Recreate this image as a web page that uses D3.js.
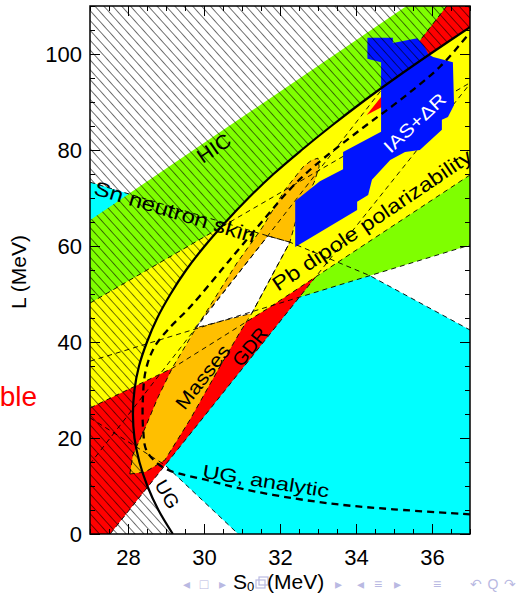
<!DOCTYPE html>
<html>
<head>
<meta charset="utf-8">
<script src="https://cdn.jsdelivr.net/npm/d3@7"></script>
<style>
  html, body { margin: 0; padding: 0; background: #fff; overflow: hidden; }
  text { font-family: 'Liberation Sans', Arial, sans-serif; }
</style>
</head>
<body>
<svg id="chart" width="517" height="595"></svg>
<script>
// ---------- constraint regions in the (S0, L) plane, both in MeV ----------

// Sn neutron skin band
const snUpperS = [27, 31.68, 32.26, 34.37, 37];
const snUpperL = [73.3, 62.1, 60.8, 53.8, 42.5];
const snLowerS = [27, 28.97, 30.9];
const snLowerL = [24.2, 14.4, 0];

// heavy-ion collisions
const hicS = [27, 35.33, 37, 37, 32.53, 27];
const hicL = [65.4, 110, 110, 60.2, 49.4, 36.0];
const hicLowS = [27, 37];
const hicLowL = [36.0, 60.2];

// giant dipole resonance
const gdrS = [27, 27.53, 37, 37, 36.39, 31.48, 27];
const gdrL = [0, 0, 93.8, 110, 110, 60, 32.1];
const gdrRightS = [27.53, 37];
const gdrRightL = [0, 93.8];
const gdrLeftS = [36.39, 27];
const gdrLeftL = [110, 14.6];
const gdrGapS = [34.28, 34.68, 34.68];
const gdrGapL = [87.3, 91.25, 88.96];

// Pb dipole polarizability
const pbTopS = [27, 30.40];
const pbTopL = [48.1, 63.7];
const pbLowS = [37, 31.74, 29.18, 27];
const pbLowL = [74.8, 47.3, 34.6, 26.25];
const pbEdgeS = [27, 37];
const pbEdgeL = [48.1, 94.0];

// nuclear masses
const massS = [28.05, 28.13, 28.45, 28.79, 29.18, 29.76, 30.87, 31.53, 32.13, 32.61, 32.84, 33.00,
               33.03, 32.90, 32.66, 32.42, 32.26, 31.26, 30.95, 30.37, 29.63, 28.97, 28.45];
const massL = [12.5, 16.5, 22.1, 28.5, 34.8, 42.5, 56.5, 63.8, 71.7, 76.5, 77.9, 78.3,
               76.5, 73.3, 69.6, 65.4, 60.8, 46.0, 42.1, 34.2, 23.8, 15.4, 12.9];

// common overlap of the experimental bands
const overlapS = [31.68, 32.26, 31.26, 29.76];
const overlapL = [62.1, 60.8, 46.0, 42.9];

// isobaric analog states + neutron skins
const iasS = [34.30, 34.97, 34.97, 35.61, 35.79, 35.90, 36.03, 36.55, 36.58, 36.42, 36.26, 36.26, 35.68, 35.29,
              34.90, 34.42, 34.32, 34.03, 34.03, 32.40, 32.40, 33.05, 33.66, 33.66, 34.66, 34.66, 34.30];
const iasL = [103.4, 103.4, 102.3, 103.3, 101.7, 100.0, 99.4, 98.3, 89.4, 86.9, 86.3, 84.2, 80.0, 79.6,
              77.9, 73.8, 70.6, 69.2, 67.5, 59.8, 69.4, 73.5, 76.0, 79.6, 83.8, 98.3, 99.0];

// unitary gas bound
const ugL = [0, 5, 10, 15, 20, 25, 30, 35, 40, 45, 50, 55, 60, 65, 70, 75, 80, 85, 90, 95, 100, 105.6];
const ugS = [29.18, 28.80, 28.51, 28.30, 28.17, 28.13, 28.17, 28.29, 28.50, 28.77, 29.12, 29.53, 30.02,
             30.57, 31.17, 31.83, 32.57, 33.35, 34.17, 35.04, 35.95, 37.0];

// unitary gas bound, analytic form
const ugaS = [37.0, 34.98, 33.67, 32.35, 30.95, 30.07, 29.10, 28.76, 28.48, 28.40, 28.39, 28.47, 28.70,
              29.10, 29.54, 29.89, 30.68, 31.56, 32.26, 32.88, 34.11, 35.16, 36.21, 36.95];
const ugaL = [4.1, 5.15, 6.04, 7.44, 9.5, 11.25, 13.2, 14.8, 17.5, 21.7, 27.9, 34.2, 39.0,
              43.0, 46.5, 49.6, 57.1, 65.4, 71.8, 76.5, 84.2, 90.4, 97.35, 104.0];

// axis ticks
const xTicks = [28, 30, 32, 34, 36];
const yTicks = [0, 20, 40, 60, 80, 100];

// ---------- drawing ----------
const svg = d3.select('#chart');
const x = d3.scaleLinear().domain([27, 37]).range([90, 470]);
const y = d3.scaleLinear().domain([0, 110]).range([534, 6]);

const pts = (S, L) => S.map((s, i) => [s, L[i]]);
const poly = d3.line().x(d => x(d[0])).y(d => y(d[1]));
const smooth = d3.line().x(d => x(d[0])).y(d => y(d[1])).curve(d3.curveCatmullRom.alpha(0.5));
const closed = p => poly(p) + 'Z';

const ugPts = pts(ugS, ugL);
const snUpper = pts(snUpperS, snUpperL);
const snLower = pts(snLowerS, snLowerL);

const defs = svg.append('defs');
defs.append('clipPath').attr('id', 'plotArea')
  .append('rect').attr('x', x(27)).attr('y', y(110))
  .attr('width', x(37) - x(27)).attr('height', y(0) - y(110));

// region excluded by the unitary gas bound (left of / above the curve)
defs.append('clipPath').attr('id', 'ugExcluded')
  .append('path')
  .attr('d', smooth(ugPts) + `L${x(37)},${y(110)}L${x(27)},${y(110)}L${x(27)},${y(0)}Z`);

// part of the plane above the HIC band
defs.append('clipPath').attr('id', 'aboveHic')
  .append('path')
  .attr('d', closed([[hicS[0], 110], [hicS[1], hicL[1]], [hicS[0], hicL[0]]]));

defs.append('pattern').attr('id', 'hatch')
  .attr('patternUnits', 'userSpaceOnUse')
  .attr('width', 6.6).attr('height', 10)
  .attr('patternTransform', 'rotate(-42)')
  .append('line').attr('x1', 0).attr('y1', -1).attr('x2', 0).attr('y2', 11)
  .attr('stroke', '#000').attr('stroke-width', 1.1);

const plot = svg.append('g').attr('clip-path', 'url(#plotArea)');

// filled bands
const snPoly = snUpper.concat([[37, 0]], snLower.slice().reverse());
plot.append('path').attr('d', closed(snPoly)).attr('fill', '#00ffff');
plot.append('path').attr('d', closed(pts(hicS, hicL))).attr('fill', '#7fff00');
plot.append('path').attr('d', closed(pts(gdrS, gdrL))).attr('fill', '#ff0000');

const yellowPts = pts(pbTopS, pbTopL)
  .concat(ugPts.filter(p => p[1] > pbTopL[1]), pts(pbLowS, pbLowL));
plot.append('path').attr('d', closed(yellowPts)).attr('fill', '#ffff00');

plot.append('path').attr('d', closed(pts(massS, massL))).attr('fill', '#ffbf00');
plot.append('path').attr('d', closed(pts(overlapS, overlapL))).attr('fill', '#ffffff');
plot.append('path').attr('d', closed(pts(gdrGapS, gdrGapL))).attr('fill', '#ff0000');

// band edges
const thinDash = (p, isClosed) => plot.append('path')
  .attr('d', isClosed ? closed(p) : poly(p))
  .attr('fill', 'none').attr('stroke', '#000')
  .attr('stroke-width', 0.9).attr('stroke-dasharray', '5,4');

thinDash(snLower);
thinDash(pts(hicLowS, hicLowL));
thinDash(pts(pbLowS, pbLowL));
thinDash(pts(pbEdgeS, pbEdgeL));
thinDash(pts(gdrLeftS, gdrLeftL));
thinDash(pts(gdrRightS, gdrRightL));
thinDash(pts(massS, massL), true);
thinDash(pts(overlapS, overlapL), true);

// IAS + ΔR region
plot.append('path').attr('d', closed(pts(iasS, iasL))).attr('fill', '#0014ff');

// hatching over the excluded region
plot.append('rect')
  .attr('x', x(27)).attr('y', y(110))
  .attr('width', x(37) - x(27)).attr('height', y(0) - y(110))
  .attr('fill', 'url(#hatch)')
  .attr('clip-path', 'url(#ugExcluded)');

// Sn band piece above the HIC band stays plain
plot.append('g').attr('clip-path', 'url(#aboveHic)')
  .append('path').attr('d', closed(snPoly)).attr('fill', '#00ffff');
thinDash(snUpper);

// unitary gas curves
plot.append('path').attr('d', smooth(ugPts))
  .attr('fill', 'none').attr('stroke', '#000').attr('stroke-width', 2.2);
plot.append('path').attr('d', smooth(pts(ugaS, ugaL)))
  .attr('fill', 'none').attr('stroke', '#000').attr('stroke-width', 2.3)
  .attr('stroke-dasharray', '7,5');

// region labels
const labels = svg.append('g');
function label(txt, s, l, angle, size, len, color) {
  labels.append('text')
    .attr('transform', `translate(${x(s)},${y(l)}) rotate(${angle})`)
    .attr('text-anchor', 'middle').attr('dominant-baseline', 'central')
    .attr('font-size', size)
    .attr('textLength', len).attr('lengthAdjust', 'spacingAndGlyphs')
    .attr('fill', color || '#000')
    .text(txt);
}
label('HIC', 30.26, 80.4, -34, 20, 36);
label('Sn neutron skin', 29.24, 67.1, 17, 20, 168);
label('Pb dipole polarizability', 34.42, 65.4, -34, 20, 236);
label('IAS+ΔR', 35.55, 85.6, -43, 18, 78, '#ffffff');
label('Masses', 29.97, 32.7, -52, 19, 76);
label('GDR', 31.21, 39.0, -51, 19, 44);
label('UG', 29.03, 8.3, 60, 19, 30);
label('UG, analytic', 31.63, 11.0, 9, 19, 128);

// frame
svg.append('rect')
  .attr('x', x(27)).attr('y', y(110))
  .attr('width', x(37) - x(27)).attr('height', y(0) - y(110))
  .attr('fill', 'none').attr('stroke', '#000').attr('stroke-width', 1.5);

// axes with inward ticks on all four sides
const xMinor = d3.range(27, 37.001, 0.5);
const yMinor = d3.range(0, 110.001, 5);
function addAxis(axis, tx, ty, labelled) {
  const g = svg.append('g').attr('transform', `translate(${tx},${ty})`).call(axis);
  g.select('.domain').remove();
  g.selectAll('line').attr('stroke', '#000').attr('stroke-width', 1);
  g.selectAll('text')
    .attr('font-family', "'Liberation Sans', Arial, sans-serif")
    .attr('font-size', 22).attr('fill', '#000');
  if (!labelled) g.selectAll('text').remove();
}
addAxis(d3.axisBottom(x).tickValues(xTicks).tickSize(-10).tickPadding(15).tickFormat(d3.format('d')), 0, y(0), true);
addAxis(d3.axisBottom(x).tickValues(xMinor).tickSize(-5).tickFormat(''), 0, y(0), false);
addAxis(d3.axisTop(x).tickValues(xTicks).tickSize(-10).tickFormat(''), 0, y(110), false);
addAxis(d3.axisTop(x).tickValues(xMinor).tickSize(-5).tickFormat(''), 0, y(110), false);
addAxis(d3.axisLeft(y).tickValues(yTicks).tickSize(-10).tickPadding(8).tickFormat(d3.format('d')), x(27), 0, true);
addAxis(d3.axisLeft(y).tickValues(yMinor).tickSize(-5).tickFormat(''), x(27), 0, false);
addAxis(d3.axisRight(y).tickValues(yTicks).tickSize(-10).tickFormat(''), x(37), 0, false);
addAxis(d3.axisRight(y).tickValues(yMinor).tickSize(-5).tickFormat(''), x(37), 0, false);

// axis titles
svg.append('text')
  .attr('transform', 'translate(26,272) rotate(-90)')
  .attr('text-anchor', 'middle').attr('font-size', 21)
  .text('L (MeV)');

// slide navigation symbols along the bottom
const navColor = '#b9b9e2';
const nav = svg.append('g').attr('fill', navColor)
  .attr('font-family', "'DejaVu Sans', sans-serif").attr('font-size', 14)
  .attr('text-anchor', 'middle');
[['◂', 186], ['□', 204], ['▸', 222], ['▸', 338], ['◂', 360], ['≡', 378], ['▸', 397],
 ['≡', 437], ['↶', 476], ['Q', 493], ['↷', 510]]
  .forEach(([g, px]) => nav.append('text').attr('x', px).attr('y', 589).text(g));
svg.append('rect').attr('x', 256).attr('y', 580).attr('width', 9).attr('height', 8)
  .attr('fill', 'none').attr('stroke', navColor).attr('stroke-width', 1.2);
svg.append('rect').attr('x', 259).attr('y', 577).attr('width', 9).attr('height', 8)
  .attr('fill', 'none').attr('stroke', navColor).attr('stroke-width', 1.2);

const xTitle = svg.append('text').attr('x', 233).attr('y', 589).attr('font-size', 21);
xTitle.append('tspan').text('S');
xTitle.append('tspan').attr('font-size', 13).attr('dy', 2).text('0');
xTitle.append('tspan').attr('x', 267).attr('dy', -2).text('(MeV)');

// fragment of slide text at the left margin
svg.append('text').attr('x', 37).attr('y', 406)
  .attr('text-anchor', 'end').attr('font-size', 28).attr('fill', '#ff0000')
  .text('ble');
</script>
</body>
</html>
